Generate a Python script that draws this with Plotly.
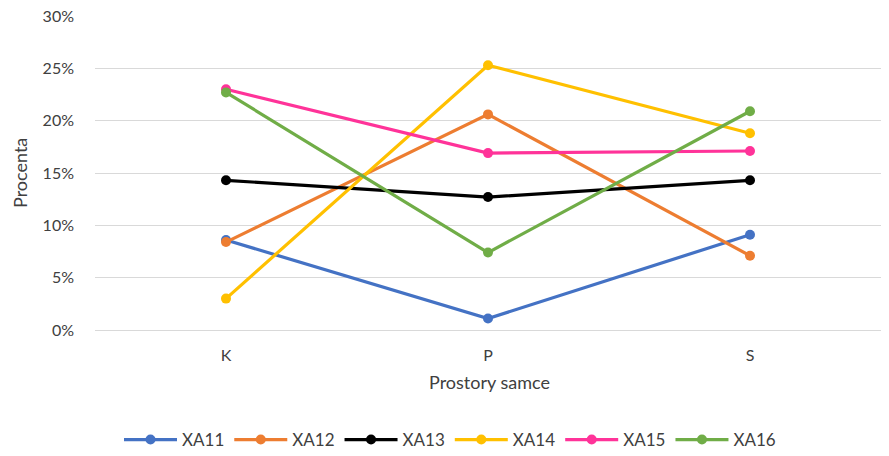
import plotly.graph_objects as go

categories = ["K", "P", "S"]
series_names = ["XA11", "XA12", "XA13", "XA14", "XA15", "XA16"]
xa11 = [0.086, 0.011, 0.091]
xa12 = [0.084, 0.206, 0.071]
xa13 = [0.143, 0.127, 0.143]
xa14 = [0.030, 0.253, 0.188]
xa15 = [0.230, 0.169, 0.171]
xa16 = [0.227, 0.074, 0.209]
y_ticks = [0, 0.05, 0.10, 0.15, 0.20, 0.25, 0.30]

series_values = [xa11, xa12, xa13, xa14, xa15, xa16]
colors = ["#4472C4", "#ED7D31", "#000000", "#FFC000", "#FF3399", "#70AD47"]

fig = go.Figure()
for name, vals, c in zip(series_names, series_values, colors):
    fig.add_trace(go.Scatter(
        x=categories, y=vals, name=name, mode="lines+markers",
        line=dict(color=c, width=3.2),
        marker=dict(color=c, size=10),
    ))

font_family = "Lato, 'Open Sans', sans-serif"
txt = "#404040"
fig.update_layout(
    width=889, height=456,
    margin=dict(l=95, r=8, t=16, b=126, autoexpand=False),
    paper_bgcolor="white", plot_bgcolor="white",
    font=dict(family=font_family, size=16, color=txt),
    showlegend=True,
    legend=dict(orientation="h", xref="container", yref="container",
                x=450 / 889, xanchor="center", y=1 - 440 / 456, yanchor="middle",
                font=dict(size=17, color=txt), itemwidth=53,
                tracegroupgap=0),
    xaxis=dict(
        type="category", range=[-0.5, 2.5], showgrid=False, showline=False,
        zeroline=False, ticks="", automargin=False, ticklabelstandoff=14,
        tickfont=dict(size=16, color=txt),
    ),
    yaxis=dict(
        range=[0, 0.30], tickvals=y_ticks, tickformat=".0%",
        showgrid=True, gridcolor="#D9D9D9", gridwidth=1,
        zeroline=True, zerolinecolor="#D9D9D9", zerolinewidth=1,
        showline=False, ticks="", automargin=False, ticklabelstandoff=20,
        tickfont=dict(size=16, color=txt),
    ),
    annotations=[
        dict(text="Prostory samce", xref="paper", yref="paper",
             x=(489 - 95) / 786, y=(330 - 382) / 314, xanchor="center", yanchor="middle",
             showarrow=False, font=dict(size=18, color=txt)),
        dict(text="Procenta", xref="paper", yref="paper",
             x=(20 - 95) / 786, y=(330 - 173) / 314, xanchor="center", yanchor="middle",
             textangle=-90, showarrow=False, font=dict(size=18, color=txt)),
    ],
)
fig.write_html("out.html", config={"displayModeBar": False},
               post_script="document.body.style.margin='0';document.body.style.overflow='hidden';")
